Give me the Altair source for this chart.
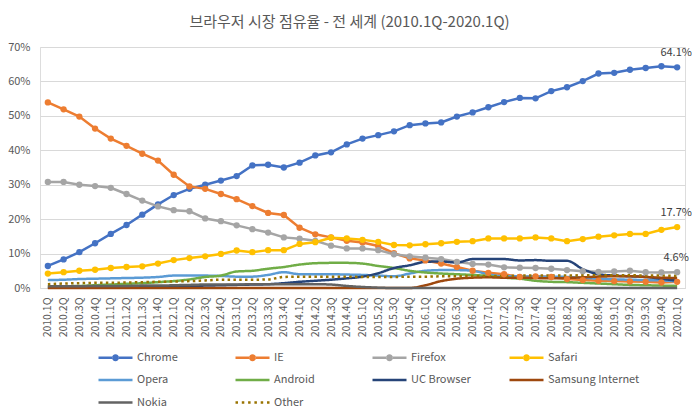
import altair as alt
import pandas as pd

quarters = [
    "2010.1Q", "2010.2Q", "2010.3Q", "2010.4Q", "2011.1Q", "2011.2Q", "2011.3Q", "2011.4Q",
    "2012.1Q", "2012.2Q", "2012.3Q", "2012.4Q", "2013.1Q", "2013.2Q", "2013.3Q", "2013.4Q",
    "2014.1Q", "2014.2Q", "2014.3Q", "2014.4Q", "2015.1Q", "2015.2Q", "2015.3Q", "2015.4Q",
    "2016.1Q", "2016.2Q", "2016.3Q", "2016.4Q", "2017.1Q", "2017.2Q", "2017.3Q", "2017.4Q",
    "2018.1Q", "2018.2Q", "2018.3Q", "2018.4Q", "2019.1Q", "2019.2Q", "2019.3Q", "2019.4Q",
    "2020.1Q",
]

chrome = [6.4, 8.3, 10.4, 13.0, 15.7, 18.3, 21.3, 24.3, 27.0, 28.8, 30.0, 31.2, 32.5, 35.6,
          35.8, 35.0, 36.4, 38.5, 39.4, 41.7, 43.4, 44.4, 45.5, 47.3, 47.8, 48.1, 49.8, 51.0,
          52.5, 54.0, 55.2, 55.1, 57.2, 58.3, 60.1, 62.3, 62.5, 63.4, 63.9, 64.4, 64.1]
ie = [53.9, 51.9, 49.8, 46.3, 43.4, 41.3, 39.0, 37.0, 32.9, 29.5, 28.8, 27.3, 25.8, 23.8,
      21.8, 21.2, 17.5, 15.6, 14.7, 13.7, 13.2, 12.2, 10.1, 8.6, 8.0, 7.1, 6.1, 5.0, 4.4, 4.0,
      3.2, 3.4, 3.2, 2.6, 2.3, 2.1, 2.0, 1.9, 1.8, 1.6, 1.8]
firefox = [30.8, 30.8, 30.0, 29.6, 29.1, 27.3, 25.4, 23.7, 22.6, 22.3, 20.2, 19.4, 18.2, 17.1,
           16.1, 14.7, 14.3, 13.7, 12.3, 11.5, 11.5, 11.0, 9.8, 9.2, 8.8, 8.4, 7.6, 7.0, 6.8,
           6.0, 5.9, 5.8, 5.6, 5.2, 4.9, 4.7, 4.8, 5.0, 4.6, 4.5, 4.6]
safari = [4.2, 4.6, 5.0, 5.3, 5.8, 6.1, 6.3, 7.1, 8.1, 8.7, 9.2, 9.9, 10.9, 10.4, 11.0, 11.0,
          12.8, 13.3, 14.6, 14.4, 14.0, 13.4, 12.5, 12.4, 12.7, 13.0, 13.4, 13.6, 14.4, 14.4,
          14.4, 14.7, 14.4, 13.6, 14.2, 14.9, 15.3, 15.7, 15.7, 16.9, 17.7]
opera = [2.3, 2.4, 2.6, 2.7, 2.8, 2.9, 3.0, 3.2, 3.6, 3.6, 3.6, 3.5, 3.3, 3.3, 3.8, 4.6, 4.0,
         4.0, 4.0, 3.9, 3.8, 3.6, 3.4, 4.2, 5.0, 5.2, 5.2, 5.0, 4.0, 3.4, 3.4, 3.3, 3.3, 3.2,
         3.0, 2.7, 2.5, 2.4, 2.3, 2.2, 1.9]
android = [0.4, 0.5, 0.6, 0.8, 1.0, 1.2, 1.4, 1.7, 2.0, 2.5, 3.2, 3.6, 4.8, 5.0, 5.6, 6.1, 6.8,
           7.2, 7.3, 7.3, 7.1, 6.4, 5.8, 5.0, 4.5, 4.2, 4.0, 3.8, 3.5, 3.0, 2.7, 2.1, 1.8, 1.7,
           1.5, 1.3, 1.1, 0.9, 0.8, 0.7, 0.6]
uc_browser = [0.1, 0.1, 0.2, 0.2, 0.3, 0.3, 0.4, 0.4, 0.5, 0.6, 0.7, 0.8, 0.9, 1.0, 1.1, 1.4,
              1.8, 2.1, 2.4, 2.8, 3.3, 4.3, 5.8, 6.6, 7.6, 7.7, 7.4, 8.4, 8.4, 8.4, 8.0, 8.1,
              7.9, 7.9, 5.5, 4.0, 3.6, 3.4, 3.2, 2.7, 2.1]
samsung = [0.0] * 24 + [0.8, 2.0, 2.7, 3.0, 3.1, 3.0, 3.0, 2.9, 2.8, 2.9, 3.1, 3.3, 3.4, 3.4,
                        3.2, 3.0, 2.9]
nokia = [0.5, 0.5, 0.5, 0.6, 0.6, 0.6, 0.7, 0.7, 0.8, 0.9, 1.0, 1.0, 1.0, 1.1, 1.1, 1.1, 1.1,
         1.1, 1.0, 0.6, 0.3, 0.1] + [0.0] * 19
other = [1.1, 1.3, 1.4, 1.5, 1.5, 1.6, 1.7, 1.8, 1.9, 2.0, 2.2, 2.4, 2.4, 2.4, 2.5, 3.2, 3.3,
         3.3, 3.3, 3.3, 3.2, 3.2, 3.2, 3.3, 3.3, 3.4, 3.4, 3.5, 3.5, 3.5, 3.6, 3.6, 3.6, 3.6,
         3.7, 3.7, 3.7, 3.7, 3.6, 3.6, 3.5]

series_names = ["Chrome", "IE", "Firefox", "Safari", "Opera", "Android", "UC Browser",
                "Samsung Internet", "Nokia", "Other"]
series_values = [chrome, ie, firefox, safari, opera, android, uc_browser, samsung, nokia, other]
colors = ["#4472C4", "#ED7D31", "#A5A5A5", "#FFC000", "#5B9BD5", "#70AD47", "#264478",
          "#9E480E", "#636363", "#997300"]
marker_series = ["Chrome", "IE", "Firefox", "Safari"]
labelled_series = ["Chrome", "Safari", "Firefox"]

title_text = "브라우저 시장 점유율 - 전 세계 (2010.1Q-2020.1Q)"
FONT = "Noto Sans CJK KR"

rows = []
for name, vals in zip(series_names, series_values):
    for q, v in zip(quarters, vals):
        rows.append({"quarter": q, "series": name, "value": v / 100.0,
                     "label": f"{v:.1f}%"})
df = pd.DataFrame(rows)

# legend symbol paths (line + marker, plain line, dotted line)
line_marker = ("M-1,-0.25H1.75V0.25H-1Z M3.05,-0.25H5.8V0.25H3.05Z "
               "M1.7,0A0.7,0.7 0 1,0 3.1,0A0.7,0.7 0 1,0 1.7,0Z")
line_plain = "M-1,-0.25H5.8V0.25H-1Z"
dots = " ".join(f"M{x:.2f},-0.25h0.5v0.5h-0.5Z" for x in [-1, 0.26, 1.52, 2.78, 4.04, 5.3])
shape_range = [line_marker if s in marker_series else (dots if s == "Other" else line_plain)
               for s in series_names]

x_enc = alt.X("quarter:N", sort=quarters,
              scale=alt.Scale(type="point", padding=0.5),
              axis=alt.Axis(title=None, labelAngle=270, ticks=False, grid=False,
                            domainColor="#D9D9D9", domainWidth=1,
                            labelColor="#595959", labelFontSize=10.5, labelFont=FONT,
                            labelPadding=9))
y_enc = alt.Y("value:Q", scale=alt.Scale(domain=[0, 0.7], nice=False),
              axis=alt.Axis(title=None, values=[0, 0.1, 0.2, 0.3, 0.4, 0.5, 0.6, 0.7],
                            format=".0%", domain=False, ticks=False, gridColor="#D9D9D9",
                            labelColor="#595959", labelFontSize=11, labelFont=FONT,
                            labelPadding=10))

color_scale = alt.Scale(domain=series_names, range=colors)
dash_scale = alt.Scale(domain=series_names, range=[[1, 0]] * 9 + [[2.5, 3.3]])

base = alt.Chart(df)

leg = alt.Legend(title=None, orient="none", legendX=58, legendY=305, columns=4,
                 direction="horizontal", gridAlign="all", symbolSize=100,
                 symbolStrokeWidth=0, symbolOpacity=1, labelOffset=28, labelFontSize=11,
                 labelFont=FONT, labelColor="#595959", columnPadding=6, rowPadding=10.5,
                 padding=0)

# invisible layer that carries the legend (first, so its legend settings win)
legend_layer = base.mark_point(filled=True, size=0, opacity=1).encode(
    x=x_enc, y=y_enc,
    color=alt.Color("series:N", scale=color_scale, legend=leg),
    shape=alt.Shape("series:N", scale=alt.Scale(domain=series_names, range=shape_range),
                    legend=leg),
)

lines_marked = base.transform_filter(
    alt.FieldOneOfPredicate(field="series", oneOf=marker_series)
).mark_line(strokeWidth=2.5).encode(
    x=x_enc, y=y_enc,
    color=alt.Color("series:N", scale=color_scale, legend=None),
)

lines_plain = base.transform_filter(
    {"not": alt.FieldOneOfPredicate(field="series", oneOf=marker_series)}
).mark_line(strokeWidth=2.5, interpolate="monotone").encode(
    x=x_enc, y=y_enc,
    color=alt.Color("series:N", scale=color_scale, legend=None),
    strokeDash=alt.StrokeDash("series:N", scale=dash_scale, legend=None),
)

points = base.transform_filter(
    alt.FieldOneOfPredicate(field="series", oneOf=marker_series)
).mark_point(filled=True, size=40, opacity=1).encode(
    x=x_enc, y=y_enc,
    color=alt.Color("series:N", scale=color_scale, legend=None),
)

labels = base.transform_filter(
    alt.FieldOneOfPredicate(field="series", oneOf=labelled_series)
).transform_filter(
    alt.FieldEqualPredicate(field="quarter", equal=quarters[-1])
).mark_text(dy=-14, dx=-1, fontSize=11, color="#404040", font=FONT).encode(
    x=x_enc, y=y_enc, text="label:N",
)

chart = alt.layer(legend_layer, lines_marked, lines_plain, points, labels).properties(
    width=645, height=241,
    title=alt.TitleParams(title_text, font=FONT, fontSize=15, fontWeight="normal",
                          color="#595959", anchor="middle", offset=11, dx=-13),
    autosize=alt.AutoSizeParams(type="none"),
    padding={"left": 32, "top": 39, "right": 7, "bottom": 124},
).configure_view(stroke=None).configure(background="white")

chart.save("out.html", embed_options={"renderer": "svg", "actions": False})
